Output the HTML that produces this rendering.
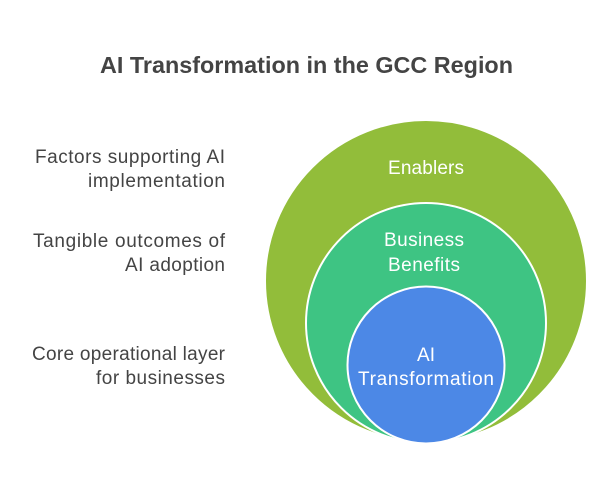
<!DOCTYPE html>
<html><head><style>
body{margin:0;width:612px;height:493px;background:#fff;overflow:hidden;font-family:"Liberation Sans",sans-serif;}
</style></head><body>
<svg width="612" height="493" xmlns="http://www.w3.org/2000/svg" font-family="Liberation Sans, sans-serif">
<text x="100" y="73" font-size="23" font-weight="bold" fill="#444" textLength="413" lengthAdjust="spacingAndGlyphs">AI Transformation in the GCC Region</text>
<circle cx="426" cy="281" r="161" fill="#92bd3a" stroke="#fff" stroke-width="2"/>
<circle cx="426" cy="323" r="120" fill="#3ec483" stroke="#fff" stroke-width="2"/>
<circle cx="426" cy="365" r="78.5" fill="#4c88e6" stroke="#fff" stroke-width="2"/>
<g fill="#fff" font-size="19" lengthAdjust="spacingAndGlyphs">
<text x="388" y="174" textLength="76">Enablers</text>
<text x="384" y="246" textLength="80">Business</text>
<text x="388" y="271" textLength="72">Benefits</text>
<text x="417" y="361" textLength="18">AI</text>
<text x="358" y="385" textLength="136">Transformation</text>
</g>
<g fill="#444" font-size="19" lengthAdjust="spacingAndGlyphs">
<text x="35" y="163" textLength="190">Factors supporting AI</text>
<text x="88" y="187" textLength="137">implementation</text>
<text x="33" y="247" textLength="192">Tangible outcomes of</text>
<text x="125" y="271" textLength="100">AI adoption</text>
<text x="32" y="360" textLength="193">Core operational layer</text>
<text x="96" y="384" textLength="129">for businesses</text>
</g>
</svg>
</body></html>
